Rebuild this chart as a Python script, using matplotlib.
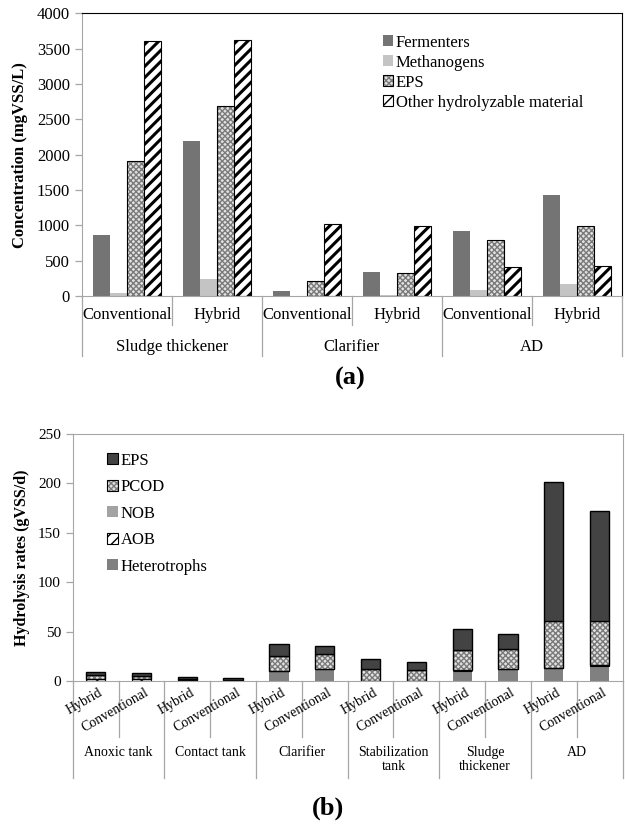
import matplotlib
matplotlib.use("Agg")
import matplotlib.pyplot as plt
import matplotlib.transforms as mtransforms
from matplotlib.patches import Patch
from matplotlib.legend_handler import HandlerTuple
import numpy as np

plt.rcParams['font.family'] = ['Liberation Serif', 'DejaVu Serif']
plt.rcParams['hatch.linewidth'] = 1.0

# ---- panel (a) data: concentration (mgVSS/L)
stages_a = ['Sludge thickener', 'Clarifier', 'AD']
configs_a = ['Conventional', 'Hybrid']
fermenters = [870, 2200, 75, 335, 913, 1435]
methanogens = [38, 237, 5, 15, 85, 170]
eps_a = [1905, 2687, 216, 322, 786, 993]
other_hydro = [3605, 3624, 1012, 995, 415, 428]

# ---- panel (b) data: hydrolysis rates (gVSS/d)
stages_b = ['Anoxic tank', 'Contact tank', 'Clarifier', 'Stabilization\ntank',
            'Sludge\nthickener', 'AD']
configs_b = ['Hybrid', 'Conventional']
heterotrophs = [0.5, 0.5, 0.3, 0.3, 9.7, 11.7, 0, 0, 10.2, 11.7, 12.8, 15.3]
aob = [1.5, 1.2, 0.8, 0.7, 0.4, 0.4, 0, 0, 0.4, 0.4, 0.4, 0.4]
nob = [0.3, 0.3, 0.1, 0.1, 0.1, 0.1, 0, 0, 0.1, 0.1, 0.1, 0.1]
pcod = [3.5, 3.3, 0.5, 0.4, 15.4, 15.5, 12.5, 11.5, 20.4, 19.9, 47.5, 44.7]
eps_b = [3.5, 2.8, 2.0, 1.5, 12.2, 8.1, 9.8, 7.5, 21.9, 15.9, 140.2, 111.5]

CHECK_FC = '#e2e2e2'
CHECK_HC = '#7a7a7a'
GRID_GRAY = '#a6a6a6'


def hatched_bar(ax, x, h, w, bottom, fc, hatch, hc, lw=0.8):
    # the hatch takes the edge colour, so draw the outline separately
    ax.bar(x, h, w, bottom=bottom, color=fc, hatch=hatch, edgecolor=hc, linewidth=0)
    ax.bar(x, h, w, bottom=bottom, fill=False, edgecolor='black', linewidth=lw)


def category_axis(ax, fig, n_cat, per_group, short_px, long_px, right_line=True):
    # vertical separators of the two-level category axis below the plot
    h_px = ax.get_position().height * fig.get_figheight() * fig.dpi
    trans = mtransforms.blended_transform_factory(ax.transData, ax.transAxes)
    for i in range(n_cat + 1):
        if i == n_cat and not right_line:
            continue
        length = long_px if i % per_group == 0 else short_px
        ax.plot([i - 0.5, i - 0.5], [0, -length / h_px], transform=trans,
                color=GRID_GRAY, lw=0.9, clip_on=False)


def style_axes(ax, frame_color):
    for s in ['left', 'bottom']:
        ax.spines[s].set_color(GRID_GRAY)
    for s in ['top', 'right']:
        ax.spines[s].set_color(frame_color)
    ax.tick_params(axis='y', direction='out', length=5, color=GRID_GRAY, width=0.9)
    ax.set_xticks([])


def hatched_handle(fc, hatch, hc):
    return (Patch(facecolor=fc, hatch=hatch, edgecolor=hc, lw=0),
            Patch(fill=False, edgecolor='black', lw=0.8))


fig = plt.figure(figsize=(6.25, 8.24), dpi=100)

# ================= panel (a)
ax1 = fig.add_axes([81.7 / 625, 1 - 296 / 824, (622 - 81.7) / 625, (296 - 13.3) / 824])
x = np.arange(len(fermenters))
w = 0.19
ax1.bar(x - 1.5 * w, fermenters, w, color='#747474', linewidth=0)
ax1.bar(x - 0.5 * w, methanogens, w, color='#c4c4c4', linewidth=0)
hatched_bar(ax1, x + 0.5 * w, eps_a, w, 0, CHECK_FC, 'xxxxxx', CHECK_HC)
plt.rcParams['hatch.linewidth'] = 2.2
hatched_bar(ax1, x + 1.5 * w, other_hydro, w, 0, 'white', '///', 'black')
plt.rcParams['hatch.linewidth'] = 1.0

ax1.set_xlim(-0.5, len(x) - 0.5)
ax1.set_ylim(0, 4000)
ax1.set_yticks(np.arange(0, 4001, 500))
ax1.tick_params(axis='y', labelsize=12)
style_axes(ax1, 'black')
ax1.set_ylabel('Concentration (mgVSS/L)', fontsize=12, fontweight='bold', labelpad=6)

category_axis(ax1, fig, len(x), 2, 29, 60)
trans1 = mtransforms.blended_transform_factory(ax1.transData, ax1.transAxes)
for i in range(len(x)):
    ax1.annotate(configs_a[i % 2], (i, 0), xycoords=trans1, xytext=(0, -19 * 0.72),
                 textcoords='offset points', ha='center', va='center', fontsize=12)
for g, name in enumerate(stages_a):
    ax1.annotate(name, (2 * g + 0.5, 0), xycoords=trans1, xytext=(0, -51 * 0.72),
                 textcoords='offset points', ha='center', va='center', fontsize=12)

plt.rcParams['hatch.linewidth'] = 1.0
h_a = [Patch(color='#747474', lw=0), Patch(color='#c4c4c4', lw=0),
       hatched_handle(CHECK_FC, 'xxxxxx', CHECK_HC),
       hatched_handle('white', '///', 'black')]
ax1.legend(h_a, ['Fermenters', 'Methanogens', 'EPS', 'Other hydrolyzable material'],
           loc='upper left', bbox_to_anchor=(0.557, 0.925), frameon=False, fontsize=12,
           handlelength=0.65, handleheight=0.65, handletextpad=0.15, labelspacing=0.24,
           borderpad=0, borderaxespad=0, handler_map={tuple: HandlerTuple(ndivide=1)})

fig.text(0.56, 1 - 378 / 824, '(a)', ha='center', va='center', fontsize=19, fontweight='bold')

# ================= panel (b)
ax2 = fig.add_axes([72.7 / 625, 1 - 681 / 824, (622.6 - 72.7) / 625, (681 - 434) / 824])
xb = np.arange(len(heterotrophs))
wb = 0.42
het = np.array(heterotrophs)
a_ = np.array(aob)
n_ = np.array(nob)
p_ = np.array(pcod)
e_ = np.array(eps_b)
ax2.bar(xb, het, wb, color='#808080', linewidth=0)
plt.rcParams['hatch.linewidth'] = 1.2
hatched_bar(ax2, xb, a_, wb, het, 'white', '///', 'black')
ax2.bar(xb, n_, wb, bottom=het + a_, color='#a3a3a3', linewidth=0)
plt.rcParams['hatch.linewidth'] = 1.0
hatched_bar(ax2, xb, p_, wb, het + a_ + n_, CHECK_FC, 'xxxxxx', CHECK_HC, lw=1.0)
ax2.bar(xb, e_, wb, bottom=het + a_ + n_ + p_, color='#434343', edgecolor='black', linewidth=1.0)

ax2.set_xlim(-0.5, len(xb) - 0.5)
ax2.set_ylim(0, 250)
ax2.set_yticks(np.arange(0, 251, 50))
ax2.tick_params(axis='y', labelsize=11)
style_axes(ax2, GRID_GRAY)
ax2.set_ylabel('Hydrolysis rates (gVSS/d)', fontsize=11.5, fontweight='bold', labelpad=6)

category_axis(ax2, fig, len(xb), 2, 56, 97)
trans2 = mtransforms.blended_transform_factory(ax2.transData, ax2.transAxes)
for i in range(len(xb)):
    ax2.annotate(configs_b[i % 2], (i, 0), xycoords=trans2, xytext=(2, -5 * 0.72),
                 textcoords='offset points', ha='right', va='top', fontsize=10,
                 rotation=30, rotation_mode='anchor')
for g, name in enumerate(stages_b):
    ax2.annotate(name, (2 * g + 0.5, 0), xycoords=trans2, xytext=(0, -65 * 0.72),
                 textcoords='offset points', ha='center', va='top', fontsize=10,
                 linespacing=1.05)

h_b = [Patch(facecolor='#434343', edgecolor='black', lw=0.8),
       hatched_handle(CHECK_FC, 'xxxxxx', CHECK_HC),
       Patch(color='#a3a3a3', lw=0),
       hatched_handle('white', '///', 'black'),
       Patch(color='#808080', lw=0)]
ax2.legend(h_b, ['EPS', 'PCOD', 'NOB', 'AOB', 'Heterotrophs'],
           loc='upper left', bbox_to_anchor=(0.063, 0.925), frameon=False, fontsize=12,
           handlelength=0.65, handleheight=0.65, handletextpad=0.15, labelspacing=0.63,
           borderpad=0, borderaxespad=0, handler_map={tuple: HandlerTuple(ndivide=1)})

fig.text(0.525, 1 - 808 / 824, '(b)', ha='center', va='center', fontsize=19, fontweight='bold')

fig.savefig('out.png', dpi=100)
